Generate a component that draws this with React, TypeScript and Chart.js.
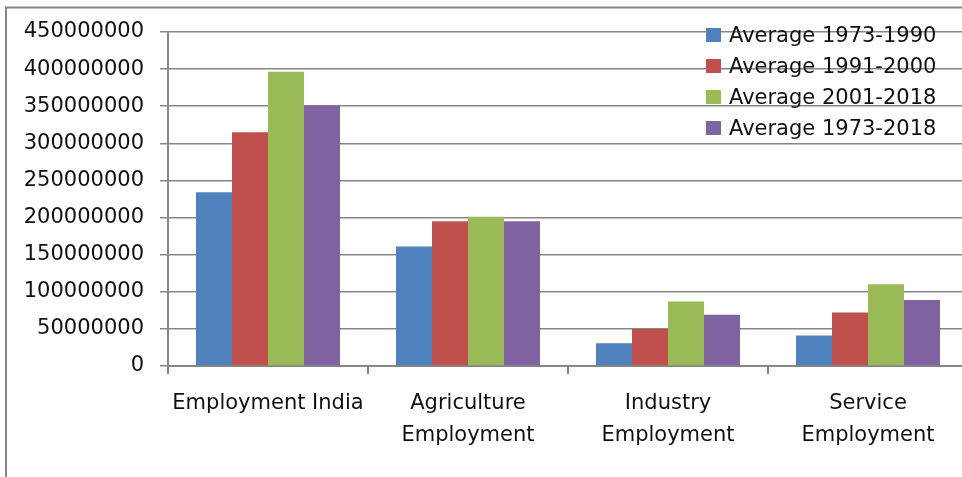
import React, { useEffect, useRef } from 'react';
import { Chart, registerables } from 'chart.js';

Chart.register(...registerables);

const categories: (string | string[])[] = [
  'Employment India',
  ['Agriculture', 'Employment'],
  ['Industry', 'Employment'],
  ['Service', 'Employment'],
];

const seriesNames = ['Average 1973-1990', 'Average 1991-2000', 'Average 2001-2018', 'Average 1973-2018'];
const avg1973to1990 = [234000000, 161000000, 30500000, 41000000];
const avg1991to2000 = [315000000, 195000000, 50000000, 72000000];
const avg2001to2018 = [396500000, 201000000, 87000000, 110000000];
const avg1973to2018 = [351000000, 195000000, 69000000, 89000000];
const seriesColors = ['#4F81BD', '#C0504D', '#9BBB59', '#8064A2'];

const yMin = 0;
const yMax = 450000000;
const yStep = 50000000;

const W = 990;
const H = 477;
const FONT = '"DejaVu Sans", sans-serif';
const GRID = '#878787';
const TEXT = '#111111';

export default function App() {
  const ref = useRef<HTMLCanvasElement>(null);

  useEffect(() => {
    if (!ref.current) return;

    const framePlugin = {
      id: 'frame',
      beforeDraw(chart: any) {
        const ctx = chart.ctx;
        ctx.save();
        ctx.fillStyle = '#ffffff';
        ctx.fillRect(0, 0, chart.width, chart.height);
        ctx.strokeStyle = GRID;
        ctx.lineWidth = 2;
        ctx.beginPath();
        ctx.moveTo(6, chart.height);
        ctx.lineTo(6, 7.5);
        ctx.lineTo(chart.width, 7.5);
        ctx.stroke();
        ctx.restore();
      },
    };

    const legendPlugin = {
      id: 'insideLegend',
      afterDatasetsDraw(chart: any) {
        const ctx = chart.ctx;
        ctx.save();
        ctx.font = `21px ${FONT}`;
        ctx.textBaseline = 'middle';
        ctx.textAlign = 'left';
        chart.data.datasets.forEach((ds: any, i: number) => {
          const cy = 35 + i * 31;
          ctx.fillStyle = ds.backgroundColor;
          ctx.fillRect(706, cy - 7, 15, 14);
          ctx.fillStyle = TEXT;
          ctx.fillText(ds.label, 729, cy + 1.5);
        });
        ctx.restore();
      },
    };

    const values = [avg1973to1990, avg1991to2000, avg2001to2018, avg1973to2018];

    const chart = new Chart(ref.current, {
      type: 'bar',
      data: {
        labels: categories,
        datasets: values.map((v, i) => ({
          label: seriesNames[i],
          data: v,
          backgroundColor: seriesColors[i],
          borderWidth: 0,
          barPercentage: 1,
          categoryPercentage: 0.72,
        })),
      },
      options: {
        responsive: false,
        animation: false,
        layout: { padding: { left: 0, right: W - 968, top: 32, bottom: 0 } },
        plugins: {
          legend: { display: false },
          tooltip: { enabled: false },
        },
        scales: {
          x: {
            offset: true,
            grid: {
              offset: true,
              drawOnChartArea: false,
              drawTicks: true,
              tickLength: 8,
              color: GRID,
              lineWidth: 2,
            },
            border: { display: true, color: GRID, width: 2 },
            ticks: {
              color: TEXT,
              font: { family: FONT, size: 21, lineHeight: 1.55 },
              padding: 13,
              maxRotation: 0,
              autoSkip: false,
            },
            afterFit(scale: any) {
              scale.height = H - 366;
            },
          },
          y: {
            min: yMin,
            max: yMax,
            grid: {
              color: GRID,
              lineWidth: 1.5,
              drawTicks: true,
              tickLength: 8,
            },
            border: { display: true, color: GRID, width: 2 },
            ticks: {
              stepSize: yStep,
              color: TEXT,
              font: { family: FONT, size: 21 },
              padding: 16,
              callback: (v: any) => String(v),
            },
            afterFit(scale: any) {
              scale.width = 168;
            },
          },
        },
      },
      plugins: [framePlugin, legendPlugin],
    });

    return () => chart.destroy();
  }, []);

  return (
    <div
      style={{
        position: 'fixed',
        left: 0,
        top: 0,
        width: 962,
        height: 477,
        overflow: 'hidden',
        background: '#fff',
      }}
    >
      <canvas ref={ref} width={W} height={H} style={{ width: W, height: H, display: 'block' }} />
    </div>
  );
}
